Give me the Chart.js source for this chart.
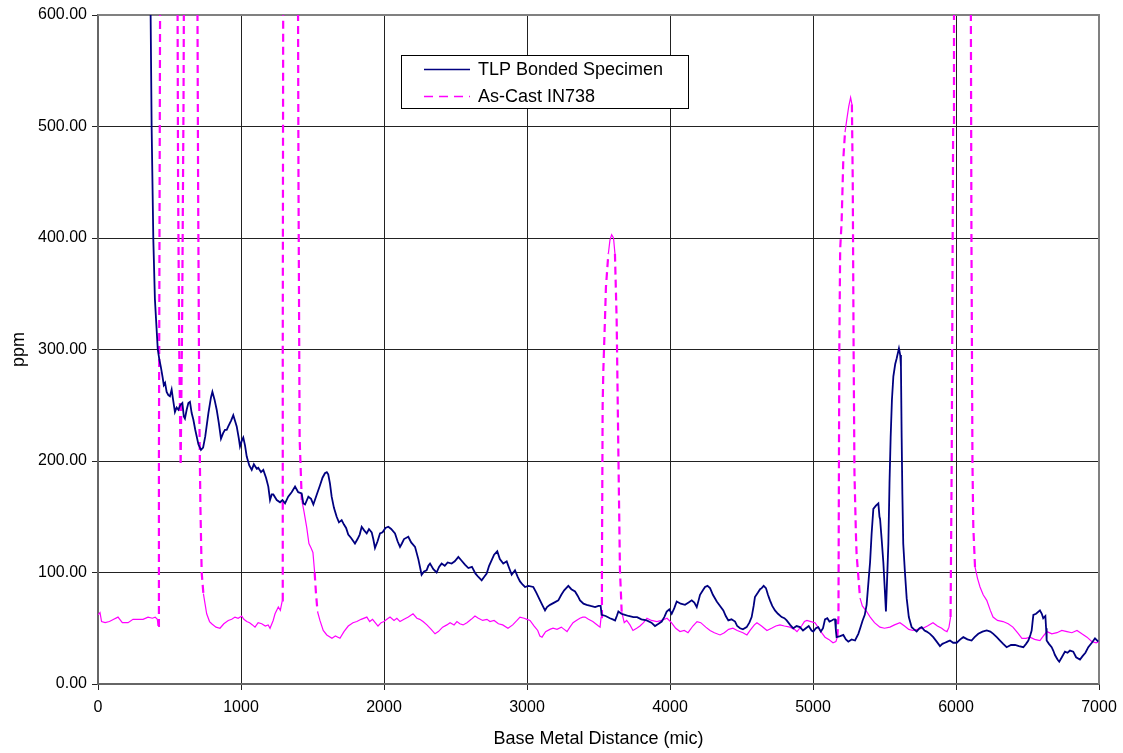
<!DOCTYPE html>
<html>
<head>
<meta charset="utf-8">
<script src="https://cdn.jsdelivr.net/npm/chart.js@4.4.0/dist/chart.umd.min.js"></script>
<style>
  html, body { margin: 0; padding: 0; background: #fff; }
  #wrap { width: 1123px; height: 753px; position: relative; }
</style>
</head>
<body>
<div id="wrap"><canvas id="chart" width="1123" height="753"></canvas></div>
<script>
// Series labels
const seriesNames = ['TLP Bonded Specimen', 'As-Cast IN738'];

// Axis ticks
const xTicks = [0, 1000, 2000, 3000, 4000, 5000, 6000, 7000];
const yTicks = [0, 100, 200, 300, 400, 500, 600];

// TLP bonded specimen (distance in mic, ppm)
const tlpX = [355, 368, 375, 387, 398, 405, 418, 429, 440, 452, 460, 469, 480, 492, 503, 515, 525, 538, 550, 562, 575, 590, 600, 608, 620, 632, 643, 655, 667, 680, 702, 720, 735, 750, 772, 790, 800, 815, 830, 845, 860, 875, 888, 900, 911, 930, 946, 958, 970, 985, 993, 1005, 1016, 1028, 1040, 1058, 1075, 1090, 1110, 1121, 1140, 1156, 1175, 1191, 1203, 1215, 1226, 1250, 1273, 1290, 1308, 1330, 1354, 1378, 1400, 1424, 1436, 1448, 1471, 1490, 1506, 1530, 1552, 1570, 1587, 1600, 1610, 1622, 1634, 1650, 1669, 1685, 1704, 1720, 1735, 1750, 1770, 1797, 1815, 1830, 1844, 1860, 1879, 1895, 1914, 1925, 1937, 1955, 1972, 1990, 2010, 2030, 2050, 2077, 2095, 2112, 2125, 2140, 2170, 2190, 2217, 2240, 2263, 2280, 2298, 2310, 2322, 2345, 2368, 2385, 2403, 2425, 2445, 2473, 2495, 2520, 2540, 2566, 2590, 2615, 2640, 2660, 2683, 2700, 2718, 2735, 2753, 2770, 2792, 2810, 2834, 2858, 2875, 2893, 2916, 2935, 2951, 2970, 2986, 3010, 3044, 3065, 3091, 3110, 3126, 3140, 3161, 3190, 3219, 3240, 3260, 3289, 3310, 3336, 3355, 3371, 3395, 3417, 3445, 3476, 3500, 3515, 3522, 3550, 3580, 3600, 3616, 3628, 3639, 3660, 3685, 3710, 3744, 3770, 3800, 3837, 3870, 3895, 3920, 3942, 3960, 3977, 3995, 4012, 4030, 4047, 4075, 4105, 4130, 4152, 4170, 4187, 4200, 4210, 4230, 4245, 4262, 4280, 4300, 4327, 4350, 4373, 4390, 4408, 4430, 4455, 4470, 4490, 4510, 4536, 4555, 4571, 4585, 4594, 4615, 4630, 4641, 4655, 4671, 4685, 4699, 4715, 4734, 4755, 4781, 4800, 4816, 4840, 4862, 4885, 4909, 4930, 4950, 4970, 4990, 5002, 5020, 5037, 5055, 5070, 5084, 5100, 5115, 5131, 5145, 5154, 5160, 5165, 5190, 5212, 5230, 5247, 5270, 5294, 5317, 5330, 5347, 5362, 5375, 5390, 5399, 5410, 5422, 5440, 5457, 5465, 5469, 5480, 5492, 5502, 5510, 5520, 5527, 5535, 5543, 5552, 5562, 5575, 5585, 5601, 5610, 5615, 5620, 5625, 5631, 5643, 5655, 5670, 5690, 5707, 5725, 5745, 5760, 5780, 5795, 5818, 5841, 5865, 5888, 5905, 5923, 5940, 5958, 5980, 6005, 6030, 6051, 6080, 6109, 6130, 6156, 6185, 6215, 6240, 6261, 6285, 6308, 6330, 6354, 6385, 6413, 6440, 6471, 6490, 6506, 6520, 6529, 6535, 6541, 6560, 6587, 6600, 6610, 6625, 6630, 6634, 6650, 6669, 6680, 6692, 6710, 6722, 6740, 6762, 6780, 6797, 6820, 6840, 6867, 6885, 6905, 6925, 6950, 6972, 6995];
const tlpY = [800, 600, 500, 398, 345, 329, 300, 291, 284, 275, 268, 270, 262, 259, 258, 264, 255, 244, 248, 246, 250, 252, 240, 238, 246, 252, 253, 243, 237, 228, 215, 210, 212, 222, 243, 257, 262, 255, 246, 234, 220, 225, 228, 228, 231, 236, 241, 236, 231, 220, 213, 218, 221, 214, 204, 196, 192, 197, 193, 194, 190, 192, 185, 177, 165, 170, 170, 165, 163, 165, 162, 168, 172, 177, 172, 171, 162, 161, 168, 166, 161, 170, 178, 185, 189, 190, 188, 180, 168, 158, 150, 145, 147, 143, 140, 134, 131, 126, 130, 134, 141, 138, 135, 139, 136, 130, 122, 128, 135, 136, 140, 141, 139, 135, 128, 123, 126, 130, 132, 127, 123, 112, 98, 101, 102, 106, 108, 103, 100, 105, 108, 106, 109, 108, 110, 114, 111, 107, 104, 105, 99, 96, 93, 96, 99, 106, 111, 116, 119, 112, 108, 110, 104, 98, 102, 96, 92, 89, 87, 88, 87, 82, 75, 70, 66, 69, 71, 73, 75, 80, 84, 88, 85, 83, 79, 75, 72, 71, 70, 69, 70, 70, 62, 61, 59, 58, 57, 61, 65, 63, 62, 61, 60, 60, 58, 57, 55, 52, 54, 56, 60, 65, 67, 63, 68, 74, 72, 71, 73, 75, 73, 69, 75, 80, 84, 87, 88, 86, 80, 74, 70, 66, 61, 57, 58, 56, 52, 50, 49, 51, 55, 60, 70, 78, 82, 85, 86, 88, 86, 80, 75, 70, 66, 63, 60, 59, 57, 53, 50, 52, 51, 48, 50, 52, 48, 47, 50, 51, 47, 50, 58, 59, 56, 57, 58, 58, 48, 42, 43, 44, 40, 38, 40, 39, 45, 50, 57, 62, 71, 95, 109, 135, 157, 160, 162, 150, 148, 130, 109, 85, 65, 100, 126, 180, 221, 255, 276, 287, 292, 301, 295, 285, 221, 170, 126, 100, 77, 60, 51, 49, 47, 50, 51, 48, 47, 45, 42, 38, 34, 36, 37, 38, 39, 37, 37, 40, 42, 40, 39, 42, 45, 47, 48, 47, 45, 42, 39, 36, 33, 35, 35, 34, 33, 36, 39, 44, 48, 55, 62, 63, 66, 63, 59, 61, 50, 39, 36, 33, 30, 26, 22, 20, 24, 29, 28, 30, 29, 24, 22, 25, 28, 33, 37, 41, 38];

// As-cast IN738 (distance in mic, ppm); spikes run past the 600 ceiling
const castX = [0, 14, 25, 50, 80, 110, 140, 170, 210, 245, 280, 315, 350, 380, 400, 415, 420, 426, 432, 438, 552, 560, 568, 578, 588, 598, 606, 690, 700, 708, 716, 725, 737, 760, 780, 795, 825, 853, 880, 911, 935, 958, 980, 1005, 1020, 1040, 1060, 1080, 1098, 1120, 1145, 1170, 1190, 1203, 1225, 1238, 1261, 1275, 1289, 1292, 1297, 1395, 1402, 1410, 1425, 1440, 1460, 1475, 1490, 1503, 1515, 1524, 1535, 1552, 1575, 1600, 1636, 1660, 1692, 1720, 1750, 1783, 1810, 1840, 1880, 1900, 1920, 1958, 1980, 2000, 2020, 2042, 2070, 2090, 2112, 2140, 2170, 2203, 2230, 2250, 2273, 2300, 2330, 2357, 2380, 2410, 2440, 2462, 2490, 2510, 2530, 2553, 2580, 2610, 2636, 2660, 2690, 2720, 2741, 2770, 2800, 2830, 2867, 2900, 2930, 2951, 2980, 3000, 3021, 3050, 3075, 3090, 3105, 3130, 3160, 3182, 3210, 3240, 3260, 3280, 3300, 3322, 3345, 3370, 3390, 3406, 3430, 3460, 3480, 3500, 3511, 3518, 3524, 3529, 3534, 3545, 3552, 3569, 3580, 3592, 3605, 3615, 3627, 3639, 3650, 3662, 3680, 3697, 3720, 3741, 3767, 3790, 3815, 3839, 3870, 3909, 3940, 3979, 4010, 4040, 4070, 4100, 4126, 4160, 4189, 4215, 4250, 4280, 4310, 4350, 4380, 4410, 4440, 4470, 4510, 4538, 4560, 4590, 4608, 4640, 4678, 4710, 4740, 4769, 4800, 4839, 4870, 4888, 4920, 4940, 4958, 4985, 5014, 5040, 5060, 5084, 5110, 5140, 5160, 5170, 5178, 5184, 5190, 5200, 5212, 5224, 5236, 5250, 5263, 5272, 5278, 5284, 5290, 5300, 5305, 5318, 5329, 5345, 5375, 5400, 5430, 5468, 5500, 5538, 5570, 5608, 5640, 5670, 5699, 5730, 5769, 5800, 5839, 5870, 5900, 5920, 5937, 5951, 5962, 5970, 5980, 5986, 6100, 6108, 6115, 6121, 6133, 6150, 6168, 6190, 6215, 6240, 6259, 6290, 6329, 6365, 6398, 6430, 6461, 6490, 6517, 6550, 6587, 6610, 6636, 6670, 6706, 6740, 6776, 6810, 6846, 6880, 6916, 6951, 6980, 7000];
const castY = [62, 64, 56, 55, 56, 58, 60, 55, 55, 58, 58, 58, 60, 59, 60, 58, 52, 200, 500, 800, 800, 450, 300, 196, 320, 520, 800, 800, 450, 250, 160, 100, 81, 63, 56, 54, 51, 50, 54, 57, 58, 60, 59, 61, 58, 56, 55, 53, 51, 55, 54, 52, 53, 50, 57, 63, 69, 66, 75, 300, 800, 800, 450, 220, 165, 155, 140, 126, 122, 118, 100, 82, 65, 57, 48, 44, 41, 43, 41, 47, 52, 55, 56, 58, 60, 56, 58, 52, 55, 56, 58, 60, 57, 59, 56, 58, 60, 63, 59, 58, 56, 53, 49, 45, 47, 51, 53, 55, 53, 56, 54, 53, 55, 58, 61, 59, 57, 58, 56, 57, 54, 53, 50, 53, 57, 60, 59, 58, 57, 52, 48, 43, 42, 47, 49, 50, 49, 51, 49, 47, 51, 55, 57, 59, 60, 60, 58, 56, 54, 52, 51, 60, 100, 250, 282, 326, 356, 386, 398, 403, 400, 386, 326, 207, 102, 65, 55, 57, 53, 48, 50, 52, 55, 59, 57, 56, 57, 59, 55, 50, 47, 48, 46, 52, 56, 55, 51, 48, 46, 44, 46, 49, 50, 48, 46, 44, 48, 53, 55, 52, 48, 50, 52, 53, 52, 51, 49, 47, 52, 56, 57, 56, 55, 50, 46, 42, 40, 37, 38, 42, 60, 300, 390, 414, 471, 495, 506, 518, 526, 520, 450, 300, 189, 135, 116, 95, 77, 70, 65, 60, 55, 51, 50, 51, 53, 55, 52, 49, 48, 49, 50, 52, 55, 52, 50, 48, 47, 51, 60, 200, 500, 800, 800, 400, 200, 141, 105, 95, 87, 80, 75, 66, 60, 57, 56, 54, 51, 46, 41, 41, 42, 40, 39, 43, 47, 45, 46, 48, 47, 46, 48, 45, 42, 38, 37, 38];

const FONT = "'Liberation Sans', Arial, sans-serif";

const toPoints = (xs, ys) => xs.map((x, i) => ({ x: x, y: ys[i] }));

// steep segments are drawn dashed, like the spreadsheet did
const isSteep = (ctx) => {
    const dx = Math.abs(ctx.p1.parsed.x - ctx.p0.parsed.x) || 1;
    const dy = Math.abs(ctx.p1.parsed.y - ctx.p0.parsed.y);
    return dy / dx > 1.5;
};

// legend box drawn inside the plot area
const boxLegend = {
    id: 'boxLegend',
    afterDraw(chart) {
        const c = chart.ctx;
        const left = 401, top = 55, w = 287, h = 53;
        c.save();
        c.fillStyle = '#fff';
        c.fillRect(left, top, w, h);
        c.strokeStyle = '#000';
        c.lineWidth = 1;
        c.strokeRect(left + 0.5, top + 0.5, w, h);
        chart.data.datasets.forEach((ds, i) => {
            const y = top + 14 + i * 27;
            c.beginPath();
            c.strokeStyle = ds.borderColor;
            c.lineWidth = 1.6;
            c.setLineDash(ds.legendDash || []);
            c.moveTo(424, y + 0.5);
            c.lineTo(470, y + 0.5);
            c.stroke();
            c.setLineDash([]);
            c.fillStyle = '#000';
            c.font = '18px ' + FONT;
            c.textBaseline = 'middle';
            c.textAlign = 'left';
            c.fillText(ds.label, 478, y + 1);
        });
        c.restore();
    }
};

// grey frame round the plot area (top and right edges)
const plotFrame = {
    id: 'plotFrame',
    beforeDatasetsDraw(chart) {
        const a = chart.chartArea;
        const c = chart.ctx;
        c.save();
        c.strokeStyle = '#808080';
        c.lineWidth = 2;
        c.beginPath();
        c.moveTo(a.left, a.top);
        c.lineTo(a.right, a.top);
        c.lineTo(a.right, a.bottom);
        c.stroke();
        c.restore();
    }
};

const initChart = () => {
    const ctx = document.getElementById('chart').getContext('2d');

    const data = {
        datasets: [
            {
                label: seriesNames[0],
                data: toPoints(tlpX, tlpY),
                borderColor: '#000080',
                borderWidth: 1.8,
                pointRadius: 0,
                tension: 0,
                clip: 0
            },
            {
                label: seriesNames[1],
                data: toPoints(castX, castY),
                borderColor: '#FF00FF',
                borderWidth: 1.2,
                pointRadius: 0,
                tension: 0,
                clip: 0,
                legendDash: [9, 6],
                segment: {
                    borderDash: ctx => isSteep(ctx) ? [8, 5] : [],
                    borderWidth: ctx => isSteep(ctx) ? 2.2 : 1.2
                }
            }
        ]
    };

    const config = {
        type: 'line',
        data: data,
        options: {
            responsive: false,
            animation: false,
            layout: { padding: { left: 0, right: 24, top: 15, bottom: 0 } },
            plugins: {
                legend: { display: false },
                tooltip: { enabled: false }
            },
            scales: {
                x: {
                    type: 'linear',
                    min: xTicks[0],
                    max: xTicks[xTicks.length - 1],
                    afterBuildTicks: (axis) => { axis.ticks = xTicks.map(v => ({ value: v })); },
                    afterFit: (axis) => {
                        axis.height = 69;
                        axis.paddingLeft = 0;
                        axis.paddingRight = 0;
                    },
                    grid: { color: '#222', lineWidth: 1, tickLength: 6 },
                    border: { color: '#666', width: 2 },
                    ticks: {
                        color: '#000',
                        font: { family: FONT, size: 16 },
                        padding: 8,
                        maxRotation: 0,
                        callback: (v) => String(v)
                    },
                    title: {
                        display: true,
                        text: 'Base Metal Distance (mic)',
                        color: '#000',
                        font: { family: FONT, size: 18 },
                        padding: { top: 4, bottom: 3 }
                    }
                },
                y: {
                    min: yTicks[0],
                    max: yTicks[yTicks.length - 1],
                    afterBuildTicks: (axis) => { axis.ticks = yTicks.map(v => ({ value: v })); },
                    afterFit: (axis) => {
                        axis.width = 98;
                        axis.paddingTop = 0;
                        axis.paddingBottom = 0;
                    },
                    grid: { color: '#222', lineWidth: 1, tickLength: 6 },
                    border: { color: '#666', width: 2 },
                    ticks: {
                        color: '#000',
                        font: { family: FONT, size: 16 },
                        padding: 5,
                        callback: (v) => Number(v).toFixed(2)
                    },
                    title: {
                        display: true,
                        text: 'ppm',
                        color: '#000',
                        font: { family: FONT, size: 18 },
                        padding: { top: 8, bottom: 0 }
                    }
                }
            }
        },
        plugins: [plotFrame, boxLegend]
    };

    new Chart(ctx, config);
};

initChart();
</script>
</body>
</html>
